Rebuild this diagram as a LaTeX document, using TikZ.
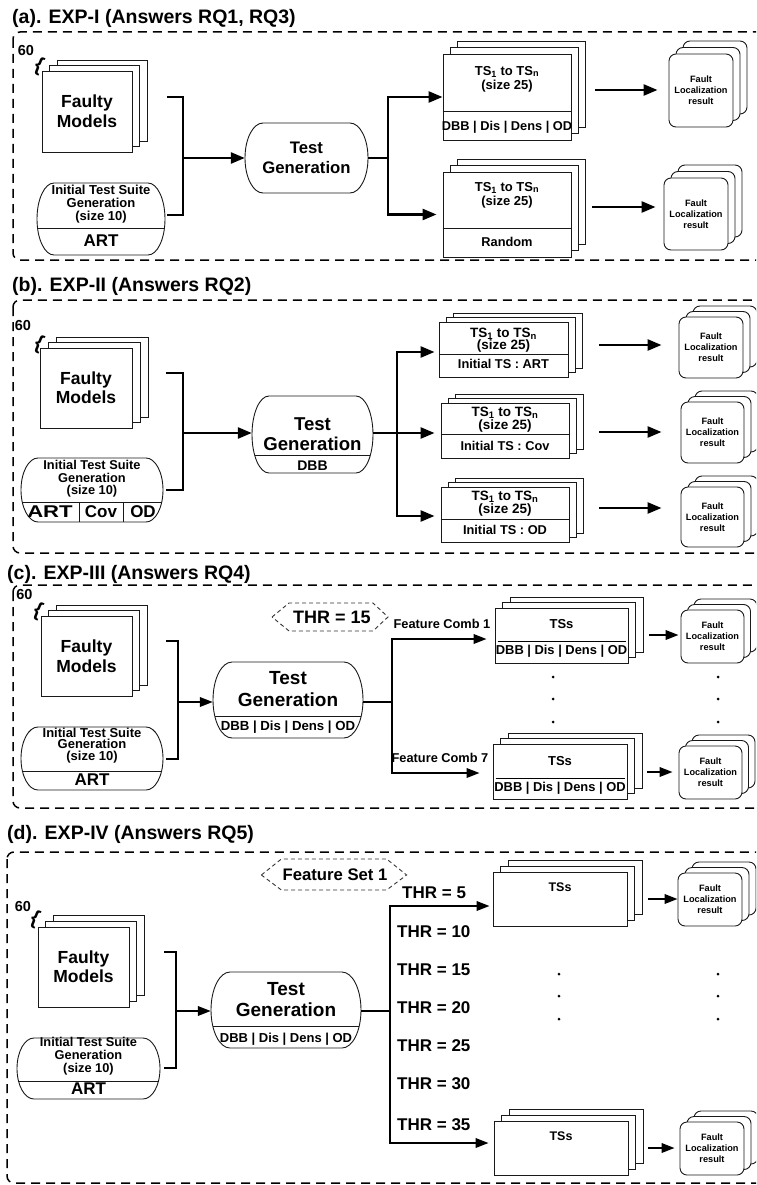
\documentclass[tikz,border=0pt]{standalone}
\usepackage{fontspec}
\usepackage{graphicx}
\setmainfont{Liberation Sans}
\usetikzlibrary{arrows.meta,shadows,calc}
\newcommand\fsz[2]{\fontsize{#1}{#2}\selectfont\bfseries}

\tikzset{
  panel/.style={draw=black, line width=1.5pt, dash pattern=on 9pt off 6pt, rounded corners=7pt},
  outline/.style={draw=black!90, line width=0.9pt},
  sheet/.style={outline, fill=white, inner sep=0pt},
  pile/.style 2 args={double copy shadow={shadow xshift=#1, shadow yshift=#2, fill=white, draw=black!90, line width=0.9pt}},
  card/.style={sheet, rounded corners=7pt, align=center, font=\fsz{9.2}{11}},
  lbl/.style={inner sep=0pt, align=center},
  heading/.style={anchor=west, inner sep=0pt, font=\fsz{19.5}{22}},
  conn/.style={line width=2.6pt},
  arr/.style={conn, -{Triangle[length=14pt,width=11pt]}},
  connt/.style={line width=2pt},
  arrt/.style={connt, -{Triangle[length=13pt,width=9.5pt]}},
  hexline/.style={draw=black!80, line width=0.9pt, dash pattern=on 4pt off 3pt},
  brace/.style={lbl, font=\fsz{20}{20}, rotate=-22},
  count/.style={lbl, font=\fsz{14.5}{14.5}},
}

% Terminal-style box with elliptical ends:
% #1 name, #2 centre x, #3 centre y, #4 width, #5 height, #6 end radius,
% #7 height of the dividing rule above the bottom (0 for none)
\newcommand\capsulenode[7]{%
  \pgfmathsetmacro\cpL{#2-#4/2}%
  \pgfmathsetmacro\cpR{#2+#4/2}%
  \pgfmathsetmacro\cpT{#3-#5/2}%
  \pgfmathsetmacro\cpB{#3+#5/2}%
  \pgfmathsetmacro\cpH{#5/2}%
  \node[inner sep=0pt, minimum width=#4, minimum height=#5] (#1) at (#2,#3) {};
  \draw[outline, fill=white] (\cpL+#6,\cpT) -- (\cpR-#6,\cpT)
    arc[start angle=-90, end angle=90, x radius=#6, y radius=\cpH]
    -- (\cpL+#6,\cpB)
    arc[start angle=90, end angle=270, x radius=#6, y radius=\cpH] -- cycle;
  \ifdim #7pt>0pt
    \pgfmathsetmacro\cpY{\cpB-#7}%
    \pgfmathsetmacro\cpD{#6*(1-sqrt(1-((#7-\cpH)/\cpH)^2))}%
    \draw[outline] (\cpL+\cpD,\cpY) -- (\cpR-\cpD,\cpY);
  \fi
}

\begin{document}
\begin{tikzpicture}[x=1pt,y=-1pt]
\useasboundingbox (0,0) rectangle (756,1185);
\clip (0,0) rectangle (756,1185);

% ================= (a) EXP-I =================
\node[heading] (ha) at (12,18) {(a). EXP-I (Answers RQ1, RQ3)};
\draw[panel] (13,32) rectangle (790,260);
\node[count] (sixa) at (26,51) {60};
\node[brace] (bra) at (39,66) {\{};
\node[sheet, pile={7.5pt}{5.5pt}, minimum width=90, minimum height=81, align=center, font=\fsz{17.5}{20}] (fma) at (87,111.5) {Faulty\\Models};
\capsulenode{isa}{101}{219}{128}{72}{17}{27}
\node[lbl, font=\fsz{13}{13}] (isat) at (101,204) {Initial Test Suite\\Generation\\(size 10)};
\node[lbl, font=\fsz{17}{17}] (isaa) at (101,241) {ART};
\capsulenode{tga}{306.5}{158}{123}{70}{18}{0}
\node[lbl, font=\fsz{16.7}{20}] (tgat) at (306.5,158) {Test\\Generation};

\coordinate (ba1) at (167,97);
\coordinate (ba2) at (167,215);
\coordinate (jxa) at (183,158);
\draw[conn] (ba1) -| (jxa) |- (ba2);
\draw[arr] (jxa) -- (tga);

\node[sheet, pile={7pt}{6.5pt}, minimum width=128, minimum height=86] (tsa1) at (507,97) {};
\draw[outline] ([yshift=29pt]tsa1.south west) -- ([yshift=29pt]tsa1.south east);
\node[lbl, font=\fsz{13}{14}] (tsa1t) at (507,79) {TS\textsubscript{1} to TS\textsubscript{n}\\(size 25)};
\node[lbl, font=\fsz{12.8}{13}] (tsa1f) at (507,127) {DBB | Dis | Dens | OD};
\node[sheet, pile={7pt}{6.5pt}, minimum width=128, minimum height=85] (tsa2) at (507,214.5) {};
\draw[outline] ([yshift=29pt]tsa2.south west) -- ([yshift=29pt]tsa2.south east);
\node[lbl, font=\fsz{13}{14}] (tsa2t) at (507,195) {TS\textsubscript{1} to TS\textsubscript{n}\\(size 25)};
\node[lbl, font=\fsz{12.8}{13}] (tsa2f) at (507,242) {Random};

\coordinate (sxa) at (388,158);
\draw[conn] (tga) -- (sxa);
\draw[arr] (sxa) |- (tsa1);
\draw[arr, shorten >=6pt] (sxa) |- (tsa2);

\node[card, pile={7pt}{6.5pt}, minimum width=64, minimum height=73] (fla1) at (701,90.5) {Fault\\Localization\\result};
\node[card, pile={7pt}{6.5pt}, minimum width=64, minimum height=72] (fla2) at (696,214) {Fault\\Localization\\result};
\coordinate (pa1) at (595,90);
\coordinate (pa2) at (592,207);
\draw[arr, shorten >=11pt] (pa1) -- (pa1 -| fla1.west);
\draw[arr, shorten >=8pt] (pa2) -- (pa2 -| fla2.west);

% ================= (b) EXP-II =================
\node[heading] (hb) at (12,286) {(b). EXP-II (Answers RQ2)};
\draw[panel] (13,300) rectangle (790,553);
\node[count] (sixb) at (23,326) {60};
\node[brace] (brb) at (39,344) {\{};
\node[sheet, pile={8pt}{5.5pt}, minimum width=92, minimum height=80, align=center, font=\fsz{17.5}{19}] (fmb) at (86,388) {Faulty\\Models};
\capsulenode{isb}{92}{490}{142}{64}{17}{20}
\node[lbl, font=\fsz{12.8}{12.5}] (isbt) at (92,479) {Initial Test Suite\\Generation\\(size 10)};
\draw[outline] (79,502) -- (79,522);
\draw[outline] (123,502) -- (123,522);
\node[lbl, font=\fsz{17}{17}] (isb1) at (50,512) {\scalebox{1.3}[1]{ART}};
\node[lbl, font=\fsz{17}{17}] (isb2) at (101,512) {Cov};
\node[lbl, font=\fsz{17}{17}] (isb3) at (143,512) {OD};
\capsulenode{tgb}{312.5}{434.5}{121}{77}{17}{18}
\node[lbl, font=\fsz{18.6}{20}] (tgbt) at (312.5,434) {Test\\Generation};
\node[lbl, font=\fsz{14}{14}] (tgbf) at (312.5,466) {DBB};

\coordinate (bb1) at (166,373);
\coordinate (bb2) at (166,490);
\coordinate (jxb) at (183,433);
\draw[conn] (bb1) -| (jxb) |- (bb2);
\draw[arr] (jxb) -- (jxb -| tgb.west);

\node[sheet, pile={7pt}{4.5pt}, minimum width=129, minimum height=55] (tsb1) at (503.5,349.5) {};
\draw[outline] ([yshift=23pt]tsb1.south west) -- ([yshift=23pt]tsb1.south east);
\node[lbl, font=\fsz{13.5}{12.5}] (tsb1t) at (503.5,340) {TS\textsubscript{1} to TS\textsubscript{n}\\(size 25)};
\node[lbl, font=\fsz{12.8}{13}] (tsb1f) at (503.5,364) {Initial TS : ART};
\node[sheet, pile={7pt}{4.5pt}, minimum width=128, minimum height=55] (tsb2) at (505,430.5) {};
\draw[outline] ([yshift=24pt]tsb2.south west) -- ([yshift=24pt]tsb2.south east);
\node[lbl, font=\fsz{13.5}{12.5}] (tsb2t) at (505,419.5) {TS\textsubscript{1} to TS\textsubscript{n}\\(size 25)};
\node[lbl, font=\fsz{12.8}{13}] (tsb2f) at (505,446) {Initial TS : Cov};
\node[sheet, pile={7pt}{4.5pt}, minimum width=128, minimum height=55] (tsb3) at (505,514.5) {};
\draw[outline] ([yshift=23pt]tsb3.south west) -- ([yshift=23pt]tsb3.south east);
\node[lbl, font=\fsz{13.5}{12.5}] (tsb3t) at (505,503.5) {TS\textsubscript{1} to TS\textsubscript{n}\\(size 25)};
\node[lbl, font=\fsz{12.8}{13}] (tsb3f) at (505,530) {Initial TS : OD};

\coordinate (sxb) at (397,433);
\coordinate (vb1) at (397,352);
\coordinate (vb3) at (397,516);
\draw[arr, shorten >=6pt] (tgb.east |- sxb) -- (sxb -| tsb2.west);
\draw[arr, shorten >=4pt] (sxb) -- (vb1) -- (vb1 -| tsb1.west);
\draw[arr, shorten >=6pt] (sxb) -- (vb3) -- (vb3 -| tsb3.west);

\node[card, pile={7pt}{5.5pt}, minimum width=64, minimum height=61] (flb1) at (711,347.5) {Fault\\Localization\\result};
\node[card, pile={7pt}{5.5pt}, minimum width=63, minimum height=61] (flb2) at (712.5,432.5) {Fault\\Localization\\result};
\node[card, pile={7pt}{5.5pt}, minimum width=63, minimum height=60] (flb3) at (712.5,517) {Fault\\Localization\\result};
\coordinate (pb1) at (599,345);
\coordinate (pb2) at (599,432);
\coordinate (pb3) at (599,508);
\draw[arr, shorten >=17pt] (pb1) -- (pb1 -| flb1.west);
\draw[arr, shorten >=19pt] (pb2) -- (pb2 -| flb2.west);
\draw[arr, shorten >=19pt] (pb3) -- (pb3 -| flb3.west);

% ================= (c) EXP-III =================
\node[heading] (hc) at (7,574) {(c). EXP-III (Answers RQ4)};
\draw[panel] (13,585) rectangle (790,808);
\node[count] (sixc) at (24.5,595) {60};
\node[brace] (brc) at (38,611) {\{};
\node[sheet, pile={7.5pt}{5.5pt}, minimum width=91, minimum height=80, align=center, font=\fsz{17.5}{20}] (fmc) at (86.5,656) {Faulty\\Models};
\capsulenode{isc}{92}{758.5}{142}{63}{17}{19}
\node[lbl, font=\fsz{13}{11.5}] (isct) at (92,745.5) {Initial Test Suite\\Generation\\(size 10)};
\node[lbl, font=\fsz{17}{17}] (isca) at (92,780) {ART};
\capsulenode{tgc}{288}{700}{150}{76}{19}{22}
\node[lbl, font=\fsz{19}{22}] (tgct) at (288,689) {Test\\Generation};
\node[lbl, font=\fsz{13.2}{13}] (tgcf) at (288,727) {DBB | Dis | Dens | OD};

\coordinate (bc1) at (166,641);
\coordinate (bc2) at (166,759);
\coordinate (jxc) at (178,702);
\draw[connt] (bc1) -| (jxc) |- (bc2);
\draw[arrt] (jxc) -- (jxc -| tgc.west);

\node[lbl, font=\fsz{18}{18}] (thrc) at (332,617) {THR = 15};
\draw[hexline] ($(thrc.west)+(-21,0)$) -- ($(thrc.west)+(-4,-14)$) -- ($(thrc.east)+(2,-14)$) -- ($(thrc.east)+(17,0)$) -- ($(thrc.east)+(2,14)$) -- ($(thrc.west)+(-4,14)$) -- cycle;

\node[sheet, pile={7.5pt}{5.5pt}, minimum width=133, minimum height=55] (tsc1) at (561.5,635.5) {};
\draw[line width=1.2pt] ([xshift=3pt,yshift=22pt]tsc1.south west) -- ([xshift=-2pt,yshift=22pt]tsc1.south east);
\node[lbl, font=\fsz{13}{13}] (tsc1t) at (561.5,624) {TSs};
\node[lbl, font=\fsz{12.9}{13}] (tsc1f) at (561.5,651) {DBB | Dis | Dens | OD};
\node[sheet, pile={7.5pt}{5.5pt}, minimum width=134, minimum height=55] (tsc2) at (560,771.5) {};
\draw[line width=1.2pt] ([xshift=3pt,yshift=21pt]tsc2.south west) -- ([xshift=-2pt,yshift=21pt]tsc2.south east);
\node[lbl, font=\fsz{13}{13}] (tsc2t) at (560,761) {TSs};
\node[lbl, font=\fsz{12.9}{13}] (tsc2f) at (560,788) {DBB | Dis | Dens | OD};

\coordinate (sxc) at (392,702);
\coordinate (vc1) at (392,639);
\coordinate (vc2) at (392,773);
\draw[connt] (tgc.east |- sxc) -- (sxc);
\draw[arrt, shorten >=8pt] (sxc) -- (vc1) -- (vc1 -| tsc1.west);
\draw[arrt, shorten >=13pt] (sxc) -- (vc2) -- (vc2 -| tsc2.west);
\node[lbl, font=\fsz{12.8}{13}] (fc1) at (442,624) {Feature Comb 1};
\node[lbl, font=\fsz{12.8}{13}] (fc7) at (440,758) {Feature Comb 7};

\foreach \yy in {677,699,722} {
  \fill (553,\yy) circle (1.5);
  \fill (718,\yy) circle (1.5);
}

\node[card, pile={6.5pt}{5.5pt}, minimum width=63, minimum height=53] (flc1) at (712.5,636.5) {Fault\\Localization\\result};
\node[card, pile={6.5pt}{5.5pt}, minimum width=63, minimum height=53] (flc2) at (710.5,772.5) {Fault\\Localization\\result};
\coordinate (pc1) at (649,635);
\coordinate (pc2) at (647,772);
\draw[arrt, shorten >=2pt] (pc1) -- (pc1 -| flc1.west);
\draw[arrt, shorten >=6pt] (pc2) -- (pc2 -| flc2.west);

% ================= (d) EXP-IV =================
\node[heading] (hd) at (7,834) {(d). EXP-IV (Answers RQ5)};
\draw[panel] (7,852) rectangle (790,1183);
\node[lbl, font=\fsz{16.7}{17}] (fset) at (335,875) {Feature Set 1};
\draw[hexline] ($(fset.west)+(-21,0)$) -- ($(fset.west)+(-1,-16)$) -- ($(fset.east)+(-1,-16)$) -- ($(fset.east)+(19,0)$) -- ($(fset.east)+(-1,15)$) -- ($(fset.west)+(-1,15)$) -- cycle;
\node[count] (sixd) at (23,906) {60};
\node[brace] (brd) at (35,919) {\{};
\node[sheet, pile={7.5pt}{6pt}, minimum width=91, minimum height=80, align=center, font=\fsz{17.5}{19}] (fmd) at (83.5,967) {Faulty\\Models};
\capsulenode{isd}{88.5}{1068.5}{143}{61}{17}{18}
\node[lbl, font=\fsz{12.8}{13}] (isdt) at (88.5,1056) {Initial Test Suite\\Generation\\(size 10)};
\node[lbl, font=\fsz{17}{17}] (isda) at (88.5,1089) {ART};
\capsulenode{tgd}{286}{1010}{150}{76}{19}{22}
\node[lbl, font=\fsz{19}{21}] (tgdt) at (286,999.5) {Test\\Generation};
\node[lbl, font=\fsz{13}{13}] (tgdf) at (286,1039) {DBB | Dis | Dens | OD};

\coordinate (bd1) at (164,952);
\coordinate (bd2) at (164,1068);
\coordinate (jxd) at (176,1011);
\draw[connt] (bd1) -| (jxd) |- (bd2);
\draw[arrt] (jxd) -- (jxd -| tgd.west);

\node[sheet, pile={7.5pt}{6pt}, minimum width=134, minimum height=54] (tsd1) at (560,899) {};
\node[lbl, font=\fsz{12.5}{13}] (tsd1t) at (560,887) {TSs};
\node[sheet, pile={7.5pt}{6pt}, minimum width=134, minimum height=54] (tsd2) at (561,1148) {};
\node[lbl, font=\fsz{12.5}{13}] (tsd2t) at (561,1136) {TSs};

\coordinate (sxd) at (390,1011);
\coordinate (vd1) at (390,906);
\coordinate (vd2) at (390,1143);
\draw[connt] (tgd.east |- sxd) -- (sxd);
\draw[arrt, shorten >=3pt] (sxd) -- (vd1) -- (vd1 -| tsd1.west);
\draw[arrt, shorten >=5pt] (sxd) -- (vd2) -- (vd2 -| tsd2.west);

\node[lbl, anchor=west, font=\fsz{17}{17}] (thr5) at (402,893) {THR = 5};
\node[lbl, anchor=west, font=\fsz{17}{17}] (thr10) at (397,932) {THR = 10};
\node[lbl, anchor=west, font=\fsz{17}{17}] (thr15) at (397,970) {THR = 15};
\node[lbl, anchor=west, font=\fsz{17}{17}] (thr20) at (397,1008) {THR = 20};
\node[lbl, anchor=west, font=\fsz{17}{17}] (thr25) at (397,1046) {THR = 25};
\node[lbl, anchor=west, font=\fsz{17}{17}] (thr30) at (397,1084) {THR = 30};
\node[lbl, anchor=west, font=\fsz{17}{17}] (thr35) at (397,1125) {THR = 35};

\foreach \yy in {974,996,1019} {
  \fill (559,\yy) circle (1.5);
  \fill (718,\yy) circle (1.5);
}

\node[card, pile={7pt}{5.5pt}, minimum width=64, minimum height=53] (fld1) at (710,899.5) {Fault\\Localization\\result};
\node[card, pile={7pt}{5.5pt}, minimum width=64, minimum height=53] (fld2) at (712,1148.5) {Fault\\Localization\\result};
\coordinate (pd1) at (648,899);
\coordinate (pd2) at (648,1148);
\draw[arrt] (pd1) -- (pd1 -| fld1.west);
\draw[arrt, shorten >=5pt] (pd2) -- (pd2 -| fld2.west);
\end{tikzpicture}
\end{document}
